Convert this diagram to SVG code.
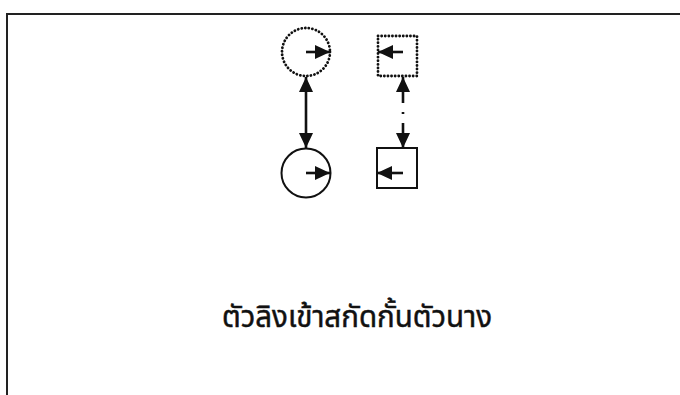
<svg xmlns="http://www.w3.org/2000/svg" width="680" height="395" viewBox="0 0 680 395">
<style>
.frame{fill:none;stroke:#222;stroke-width:2}
.solid{fill:none;stroke:#111;stroke-width:2}
.dotted{fill:none;stroke:#111;stroke-width:2.8;stroke-dasharray:0.1 3.5;stroke-linecap:round}
.conn{fill:none;stroke:#111;stroke-width:2.6}
.label{font-family:"Noto Sans Thai","Liberation Sans","DejaVu Sans",sans-serif;font-size:31px;fill:#111;stroke:#111;stroke-width:0.5}
</style>
<defs>
<marker id="ah" markerUnits="userSpaceOnUse" markerWidth="15" markerHeight="15" viewBox="0 0 15 15" refX="15" refY="7.5" orient="auto-start-reverse">
<path d="M0,0.5 L15,7.5 L0,14.5 Z" fill="#111"/>
</marker>
</defs>
<rect width="680" height="395" fill="#fff"/>
<path class="frame" d="M7,395 V14 H680"/>
<g id="dotted-circle">
<circle class="dotted" cx="306" cy="52" r="24"/>
<line class="conn" x1="306" y1="52" x2="330" y2="52" marker-end="url(#ah)"/>
</g>
<g id="solid-circle">
<circle class="solid" cx="306" cy="173" r="24.5"/>
<line class="conn" x1="306" y1="173" x2="330" y2="173" marker-end="url(#ah)"/>
</g>
<g id="dotted-square">
<rect class="dotted" x="378" y="36" width="39" height="40"/>
<line class="conn" x1="403" y1="52" x2="378" y2="52" marker-end="url(#ah)"/>
</g>
<g id="solid-square">
<rect class="solid" x="377" y="148" width="40" height="40"/>
<line class="conn" x1="403" y1="173" x2="377" y2="173" marker-end="url(#ah)"/>
</g>
<g id="connectors">
<line class="conn" x1="306" y1="77" x2="306" y2="148" marker-start="url(#ah)" marker-end="url(#ah)"/>
<line class="conn" x1="403" y1="90" x2="403" y2="134" style="stroke-dasharray:13 9 2 9"/>
<line class="conn" x1="403" y1="77" x2="403" y2="90" marker-start="url(#ah)"/>
<line class="conn" x1="403" y1="134" x2="403" y2="148" marker-end="url(#ah)"/>
</g>
<text class="label" x="222" y="327" textLength="270" lengthAdjust="spacingAndGlyphs">ตัวลิงเข้าสกัดกั้นตัวนาง</text>
</svg>
